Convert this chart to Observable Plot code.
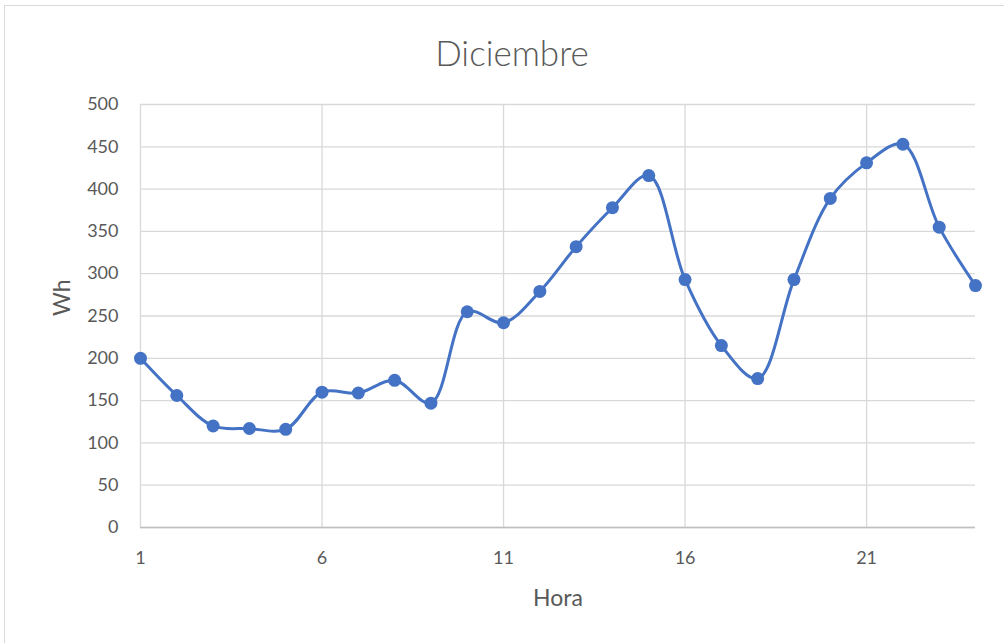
<!DOCTYPE html>
<html><head><meta charset="utf-8">
<script src="https://cdn.jsdelivr.net/npm/d3@7"></script>
<script src="https://cdn.jsdelivr.net/npm/@observablehq/plot@0.6"></script>
<style>
body{margin:0;background:#fff;font-family:Lato,"Open Sans",sans-serif;overflow:hidden;}
#frame{position:absolute;left:4px;top:5px;width:1010px;height:650px;border:1px solid #d9d9d9;box-sizing:border-box;}
#title{position:absolute;left:10px;top:0;width:1004px;height:90px;text-align:center;font-size:35px;color:#595959;line-height:104px;font-weight:300;}
#chart{position:absolute;left:0;top:90px;}
</style></head>
<body>
<div id="frame"></div>
<div id="title">Diciembre</div>
<div id="chart"></div>
<script>
const horas = [1,2,3,4,5,6,7,8,9,10,11,12,13,14,15,16,17,18,19,20,21,22,23,24];
const wh = [200,156,120,117,116,160,159,174,147,255,242,279,332,378,416,293,215,176,293,389,431,453,355,286];
const xTicks = [1,6,11,16,21];
const yTicks = [0,50,100,150,200,250,300,350,400,450,500];
const xLabel = "Hora";
const yLabel = "Wh";
const data = horas.map((h,i)=>({hora:h, wh:wh[i]}));
const chart = Plot.plot({
  width:1004, height:553,
  marginTop:14, marginBottom:116, marginLeft:140, marginRight:29,
  style:{fontFamily:"Lato, 'Open Sans', sans-serif", fontSize:"18px", color:"#595959", background:"transparent"},
  x:{domain:[1,24]},
  y:{domain:[0,500]},
  marks:[
    Plot.gridY(yTicks,{stroke:"#d9d9d9", strokeOpacity:1, strokeWidth:1.3}),
    Plot.gridX(xTicks,{stroke:"#d9d9d9", strokeOpacity:1, strokeWidth:1.3}),
    Plot.ruleY([0],{stroke:"#bfbfbf", strokeWidth:1.3}),
    Plot.axisY(yTicks,{tickSize:0, tickPadding:22, label:null, fontSize:18}),
    Plot.axisX(xTicks,{tickSize:0, tickPadding:24, label:null, fontSize:18}),
    Plot.text([xLabel],{frameAnchor:"bottom", dy:71, lineAnchor:"middle", fontSize:23, fill:"#595959"}),
    Plot.text([yLabel],{frameAnchor:"left", dx:-78, rotate:-90, lineAnchor:"middle", fontSize:23, fill:"#595959"}),
    Plot.line(data,{x:"hora", y:"wh", stroke:"#4472C4", strokeWidth:3, curve:"catmull-rom"}),
    Plot.dot(data,{x:"hora", y:"wh", fill:"#4472C4", r:6.5, stroke:"none"})
  ]
});
document.getElementById("chart").appendChild(chart);
</script>
</body></html>
